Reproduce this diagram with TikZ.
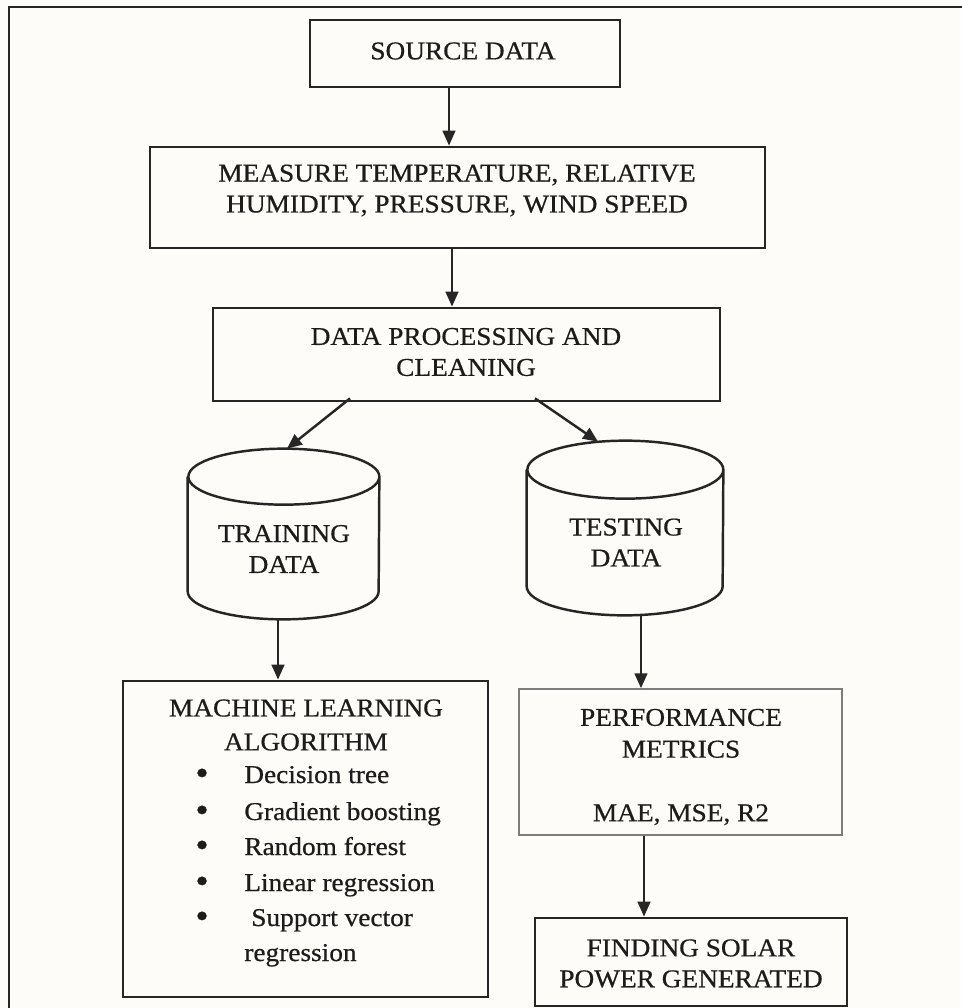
\documentclass[tikz,border=0pt]{standalone}
\usepackage{fontspec}
\usepackage{graphicx}
\setmainfont{Liberation Serif}[FakeStretch=1.065,FakeBold=0.6]
\usetikzlibrary{arrows.meta,calc}
\newcommand\pxu{0.02cm}
\newcommand\bigbul{\raisebox{-0.07em}{\scalebox{1.4}{\textbullet}}}
\newlength\bulw
\setlength\bulw{0.98cm}
\definecolor{bgc}{RGB}{253,252,248}
\definecolor{lnc}{RGB}{38,38,38}
\definecolor{txc}{RGB}{28,28,28}
\definecolor{pfc}{RGB}{125,125,125}
\begin{document}
\begin{tikzpicture}[x=0.02cm,y=-0.02cm,
  boxnode/.style={draw=lnc, line width=1.6pt, rectangle, inner sep=0pt},
  txt/.style={text=txc, align=center, inner sep=0pt, font=\fontsize{14.6}{17.6}\selectfont},
  itm/.style={text=txc, inner sep=0pt, anchor=base west, font=\fontsize{14.6}{17.6}\selectfont},
  holder/.style={rectangle, inner sep=0pt},
  cyl/.style={draw=lnc, line width=1.4pt},
  arr/.style={draw=lnc, line width=1.4pt, -{Triangle[length=8.5pt,width=7.2pt]}},
  frame/.style={draw=lnc, line width=1.2pt}]
\fill[bgc] (0,0) rectangle (961,1008);
\useasboundingbox (0,0) rectangle (961,1008);
\draw[frame] (9,1015) -- (9,7) -- (970,7);

% boxes
\node[boxnode, minimum width=310*\pxu, minimum height=67*\pxu] (src) at (465,53.5) {};
\node[txt] (srct) at (463,51) {SOURCE DATA};
\node[boxnode, minimum width=615*\pxu, minimum height=101*\pxu] (meas) at (457.5,197.5) {};
\node[txt] (meast) at (457,190.5) {MEASURE TEMPERATURE, RELATIVE\\HUMIDITY, PRESSURE, WIND SPEED};
\node[boxnode, minimum width=507*\pxu, minimum height=93*\pxu] (dp) at (466.5,354.5) {};
\node[txt] (dpt) at (466,352) {DATA PROCESSING AND\\CLEANING};

% cylinders
\node[holder, minimum width=191*\pxu, minimum height=170*\pxu] (train) at (283.5,534) {};
\draw[cyl] ($(train.north west)+(0,28)$) -- ($(train.south west)+(0,-28)$)
  arc[start angle=180, end angle=360, x radius=95.5*\pxu, y radius=28*\pxu]
  -- ($(train.north east)+(0,28)$)
  arc[start angle=0, end angle=360, x radius=95.5*\pxu, y radius=28*\pxu];
\node[txt] (traint) at (284,549) {TRAINING\\DATA};

\node[holder, minimum width=196*\pxu, minimum height=174*\pxu] (test) at (625,528) {};
\draw[cyl] ($(test.north west)+(0,29)$) -- ($(test.south west)+(0,-29)$)
  arc[start angle=180, end angle=360, x radius=98*\pxu, y radius=29*\pxu]
  -- ($(test.north east)+(0,29)$)
  arc[start angle=0, end angle=360, x radius=98*\pxu, y radius=29*\pxu];
\node[txt] (testt) at (626,542.5) {TESTING\\DATA};

% machine learning box
\node[boxnode, minimum width=365*\pxu, minimum height=316*\pxu] (ml) at (305.5,839) {};
\node[txt, font=\fontsize{14.6}{19.3}\selectfont] (mlt) at (306,725) {MACHINE LEARNING\\ALGORITHM};
\node[itm] (it1) at (195,783) {\makebox[\bulw][l]{\bigbul}Decision tree};
\node[itm] (it2) at (195,820) {\makebox[\bulw][l]{\bigbul}Gradient boosting};
\node[itm] (it3) at (195,855) {\makebox[\bulw][l]{\bigbul}Random forest};
\node[itm] (it4) at (195,891) {\makebox[\bulw][l]{\bigbul}Linear regression};
\node[itm] (it5) at (195,926) {\makebox[\bulw][l]{\bigbul}\hspace{0.14cm}Support vector};
\node[itm] (it6) at (244,961) {regression};

% performance and result
\node[boxnode, draw=pfc, line width=0.9pt, minimum width=323*\pxu, minimum height=146*\pxu] (perf) at (680.5,762) {};
\node[txt, font=\fontsize{14.6}{18.1}\selectfont] (perft) at (681,767) {PERFORMANCE\\METRICS\\[18.1pt]MAE, MSE, R2};
\node[boxnode, minimum width=312*\pxu, minimum height=88*\pxu] (find) at (691,962) {};
\node[txt] (findt) at (691,963.5) {FINDING SOLAR\\POWER GENERATED};

% connectors
\draw[arr] ([xshift=-16*\pxu]src.south) -- ([xshift=-16*\pxu]src.south |- meas.north);
\draw[arr] ([xshift=-5.5*\pxu]meas.south) -- ([xshift=-5.5*\pxu]meas.south |- dp.north);
\draw[arr] ([xshift=-116.5*\pxu,yshift=4*\pxu]dp.south) -- ([xshift=3.5*\pxu]train.north);
\draw[arr] ([xshift=68.5*\pxu,yshift=4*\pxu]dp.south) -- ([xshift=-27*\pxu,yshift=-1*\pxu]test.north);
\draw[arr] ([xshift=-5.5*\pxu]train.south) -- ([xshift=-5.5*\pxu]train.south |- ml.north);
\draw[arr] ([xshift=16*\pxu]test.south) -- ([xshift=16*\pxu]test.south |- perf.north);
\draw[arr] ([xshift=-36.5*\pxu]perf.south) -- ([xshift=-36.5*\pxu]perf.south |- find.north);
\end{tikzpicture}
\end{document}
